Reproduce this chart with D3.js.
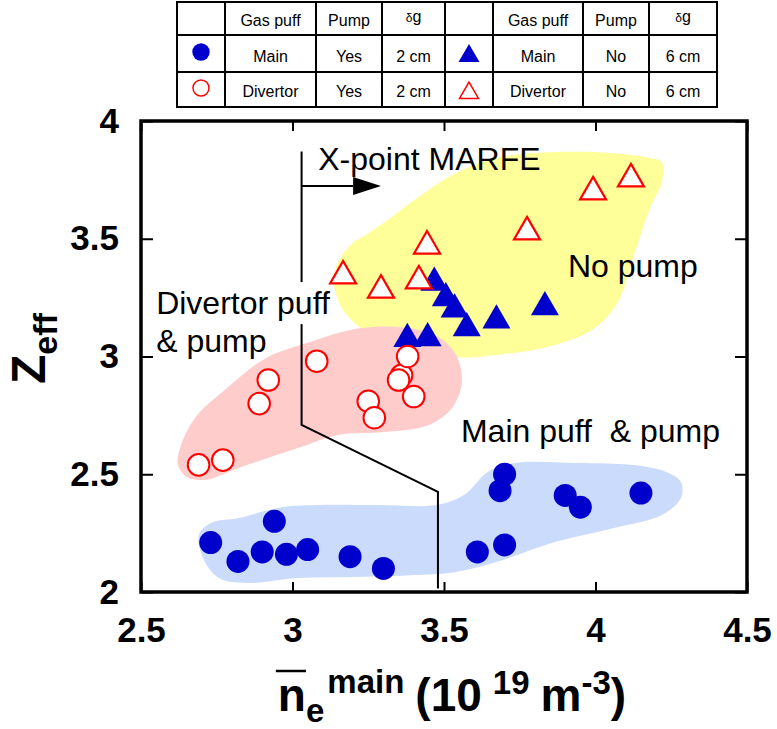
<!DOCTYPE html>
<html>
<head>
<meta charset="utf-8">
<script src="https://cdn.jsdelivr.net/npm/d3@7"></script>
<style>
  html, body { margin: 0; padding: 0; background: #fff; }
  svg { display: block; font-family: "Liberation Sans", Arial, Helvetica, sans-serif; }
</style>
</head>
<body>
<svg id="chart" width="777" height="729"></svg>
<script>
// ---------------- data ----------------
const xTicks = [2.5, 3, 3.5, 4, 4.5];
const yTicks = [2, 2.5, 3, 3.5, 4];

// [n_e main (1e19 m^-3), Z_eff]
// main gas puff, pumped, δg = 2 cm
const mainPuffPump = [
  [2.73, 2.21], [2.82, 2.13], [2.90, 2.17], [2.94, 2.30], [2.98, 2.16],
  [3.05, 2.18], [3.19, 2.15], [3.30, 2.10], [3.61, 2.17], [3.70, 2.20],
  [3.685, 2.43], [3.70, 2.50], [3.90, 2.41], [3.95, 2.36], [4.15, 2.42]
];
// divertor gas puff, pumped, δg = 2 cm
const divPuffPump = [
  [2.69, 2.54], [2.77, 2.56], [2.89, 2.80], [2.92, 2.90], [3.08, 2.98],
  [3.25, 2.81], [3.27, 2.74], [3.36, 2.92], [3.35, 2.90], [3.38, 3.00],
  [3.40, 2.83]
];
// main gas puff, no pump, δg = 6 cm
const mainPuffNoPump = [
  [3.468, 3.313], [3.506, 3.248], [3.535, 3.200], [3.575, 3.120],
  [3.673, 3.153], [3.833, 3.210], [3.379, 3.075], [3.446, 3.078]
];
// divertor gas puff, no pump, δg = 6 cm
const divPuffNoPump = [
  [3.167, 3.342], [3.292, 3.282], [3.444, 3.469], [3.417, 3.321],
  [3.992, 3.699], [4.117, 3.754], [3.774, 3.529]
];

// shaded regions enclosing each operating group
const noPumpRegion = [
  [3.206, 3.490], [3.150, 3.401], [3.137, 3.316], [3.163, 3.206], [3.226, 3.121],
  [3.345, 3.062], [3.540, 2.998], [3.672, 3.006], [3.866, 3.049], [3.998, 3.121],
  [4.074, 3.231], [4.127, 3.431], [4.180, 3.631], [4.219, 3.741], [4.219, 3.826],
  [4.180, 3.843], [3.998, 3.868], [3.800, 3.864], [3.672, 3.843], [3.540, 3.779],
  [3.411, 3.673], [3.305, 3.571], [3.226, 3.503]
];
const divPumpRegion = [
  [2.629, 2.611], [2.622, 2.539], [2.652, 2.488], [2.711, 2.476], [2.823, 2.527],
  [3.018, 2.611], [3.150, 2.667], [3.305, 2.679], [3.450, 2.709], [3.526, 2.781],
  [3.559, 2.892], [3.540, 3.006], [3.487, 3.079], [3.384, 3.121], [3.226, 3.121],
  [3.058, 3.062], [2.913, 2.994], [2.784, 2.866], [2.678, 2.739]
];
const mainPumpRegion = [
  [2.691, 2.242], [2.705, 2.144], [2.757, 2.059], [2.850, 2.038], [3.018, 2.059],
  [3.213, 2.064], [3.411, 2.072], [3.540, 2.085], [3.672, 2.127], [3.866, 2.212],
  [4.061, 2.272], [4.219, 2.327], [4.282, 2.399], [4.282, 2.467], [4.233, 2.510],
  [4.127, 2.539], [3.932, 2.548], [3.734, 2.548], [3.645, 2.510], [3.566, 2.412],
  [3.474, 2.369], [3.279, 2.369], [3.084, 2.369], [2.952, 2.357], [2.823, 2.314],
  [2.731, 2.293]
];

// X-point MARFE onset boundary and direction arrow
const marfeBoundary = [[3.03, 3.87], [3.03, 2.71], [3.48, 2.425], [3.48, 2.015]];
const marfeArrow = [[3.03, 3.724], [3.20, 3.724], [3.292, 3.724]];

// legend table
const tableHeader = ["", "Gas puff", "Pump", "δg", "", "Gas puff", "Pump", "δg"];
const tableRows = [
  ["Main", "Yes", "2 cm", "Main", "No", "6 cm"],
  ["Divertor", "Yes", "2 cm", "Divertor", "No", "6 cm"]
];

// ---------------- drawing ----------------
const BLUE = "#0000cc", RED = "#ff0000";
const svg = d3.select("#chart");
svg.append("rect").attr("width", 777).attr("height", 729).attr("fill", "#fff");

const x = d3.scaleLinear().domain([2.5, 4.5]).range([141, 747]);
const y = d3.scaleLinear().domain([2, 4]).range([592, 121]);

const blob = d3.line().x(d => x(d[0])).y(d => y(d[1]))
  .curve(d3.curveCatmullRomClosed.alpha(0.5));

const plot = svg.append("g");
plot.append("path").attr("d", blob(noPumpRegion)).attr("fill", "#ffff99");
plot.append("path").attr("d", blob(divPumpRegion)).attr("fill", "#ffcccc");
plot.append("path").attr("d", blob(mainPumpRegion)).attr("fill", "#cadbfb");

// MARFE boundary + arrow
const poly = d3.line().x(d => x(d[0])).y(d => y(d[1]));
plot.append("path").attr("d", poly(marfeBoundary))
  .attr("fill", "none").attr("stroke", "#000").attr("stroke-width", 2);
plot.append("path").attr("d", poly(marfeArrow.slice(0, 2)))
  .attr("fill", "none").attr("stroke", "#000").attr("stroke-width", 2);
{
  const [bx, by] = [x(marfeArrow[1][0]), y(marfeArrow[1][1])];
  const tx = x(marfeArrow[2][0]);
  plot.append("path")
    .attr("d", `M${bx},${by - 9}L${tx},${by}L${bx},${by + 9}Z`)
    .attr("fill", "#000");
}

// annotation labels
const ann = svg.append("g").attr("font-size", 32).attr("fill", "#000");
const divLabel = ann.append("text").attr("x", x(2.55)).attr("y", y(3.18)).text("Divertor puff");
const bb = divLabel.node().getBBox();
ann.insert("rect", "text")
  .attr("x", bb.x).attr("y", bb.y - 3).attr("width", bb.width).attr("height", bb.height + 6)
  .attr("fill", "#fff");
ann.append("text").attr("x", x(2.55)).attr("y", y(3.019)).text("& pump");
ann.append("text").attr("x", x(3.085)).attr("y", y(3.79)).text("X-point MARFE");
ann.append("text").attr("x", x(3.909)).attr("y", y(3.338)).text("No pump");
ann.append("text").attr("x", x(3.556)).attr("y", y(2.637))
  .style("white-space", "pre").text("Main puff  & pump");

// markers
const triSize = s => Math.sqrt(3) / 4 * s * s;
const marks = svg.append("g");
marks.selectAll(".mpp").data(mainPuffPump).join("circle")
  .attr("cx", d => x(d[0])).attr("cy", d => y(d[1])).attr("r", 11.5).attr("fill", BLUE);
marks.selectAll(".mnp").data(mainPuffNoPump).join("path")
  .attr("transform", d => `translate(${x(d[0])},${y(d[1])})`)
  .attr("d", d3.symbol().type(d3.symbolTriangle).size(triSize(28)))
  .attr("fill", BLUE);
marks.selectAll(".dpp").data(divPuffPump).join("circle")
  .attr("cx", d => x(d[0])).attr("cy", d => y(d[1])).attr("r", 10.8)
  .attr("fill", "#fff").attr("stroke", RED).attr("stroke-width", 2);
marks.selectAll(".dnp").data(divPuffNoPump).join("path")
  .attr("transform", d => `translate(${x(d[0])},${y(d[1])})`)
  .attr("d", d3.symbol().type(d3.symbolTriangle).size(triSize(26)))
  .attr("fill", "#fff").attr("stroke", RED).attr("stroke-width", 2.2);

// axes: ticks on all four sides, pointing inward
const fmt = d => d3.format("")(d);
svg.append("g").attr("transform", "translate(0,592)")
  .call(d3.axisBottom(x).tickValues(xTicks).tickSize(-10).tickPadding(25).tickFormat(fmt));
svg.append("g").attr("transform", "translate(141,0)")
  .call(d3.axisLeft(y).tickValues(yTicks).tickSize(-12).tickPadding(22).tickFormat(fmt));
svg.append("g").attr("transform", "translate(0,121)")
  .call(d3.axisTop(x).tickValues(xTicks).tickSize(-10).tickFormat(""));
svg.append("g").attr("transform", "translate(747,0)")
  .call(d3.axisRight(y).tickValues(yTicks).tickSize(-12).tickFormat(""));
svg.selectAll(".domain").remove();
svg.selectAll(".tick line").attr("stroke", "#000").attr("stroke-width", 2);
svg.selectAll(".tick text")
  .attr("font-family", "'Liberation Sans', Arial, sans-serif")
  .attr("font-size", 35).attr("font-weight", "bold").attr("fill", "#000");

// frame
svg.append("rect").attr("x", 141).attr("y", 121).attr("width", 606).attr("height", 471)
  .attr("fill", "none").attr("stroke", "#000").attr("stroke-width", 3.5);

// y title: Z_eff
const yt = svg.append("text")
  .attr("transform", "translate(45,384) rotate(-90)")
  .attr("font-weight", "bold").attr("font-size", 48).attr("fill", "#000");
yt.append("tspan").text("Z");
yt.append("tspan").attr("font-size", 34).attr("dy", 12).text("eff");

// x title: mean n_e main (10^19 m^-3)
const xt = svg.append("text")
  .attr("x", 452).attr("y", 711).attr("text-anchor", "middle")
  .attr("font-weight", "bold").attr("font-size", 46).attr("fill", "#000");
xt.append("tspan").text("n");
xt.append("tspan").attr("font-size", 33).attr("dy", 11).text("e");
xt.append("tspan").attr("font-size", 33).attr("dy", -29).attr("dx", 3).text("main");
xt.append("tspan").attr("dy", 18).attr("dx", 11).text("(10");
xt.append("tspan").attr("font-size", 33).attr("dy", -17).attr("dx", 11).text("19");
xt.append("tspan").attr("dy", 17).attr("dx", 11).text("m");
xt.append("tspan").attr("font-size", 33).attr("dy", -17).text("-3");
xt.append("tspan").attr("dy", 17).text(")");
{
  const ext = xt.node().getExtentOfChar(0);
  svg.append("line")
    .attr("x1", ext.x - 2).attr("x2", ext.x + ext.width)
    .attr("y1", 671).attr("y2", 671)
    .attr("stroke", "#000").attr("stroke-width", 2.5);
}

// legend table
const colEdges = [177, 225, 316, 382, 445, 493, 583, 649, 717];
const rowEdges = [2, 35, 72, 107];
const tbl = svg.append("g");
colEdges.forEach(cx => tbl.append("line")
  .attr("x1", cx).attr("x2", cx).attr("y1", rowEdges[0]).attr("y2", rowEdges[3])
  .attr("stroke", "#000").attr("stroke-width", 2));
rowEdges.forEach(ry => tbl.append("line")
  .attr("x1", colEdges[0] - 1).attr("x2", colEdges[8] + 1).attr("y1", ry).attr("y2", ry)
  .attr("stroke", "#000").attr("stroke-width", 2));
const colMid = i => (colEdges[i] + colEdges[i + 1]) / 2;
const hdrBase = 26, rowBase = [62, 97];
tableHeader.forEach((h, i) => {
  if (!h) return;
  const t = tbl.append("text").attr("x", colMid(i)).attr("text-anchor", "middle")
    .attr("font-size", 16).attr("fill", "#000");
  if (h.startsWith("δ")) {
    t.attr("y", hdrBase - 4);
    t.append("tspan").attr("font-size", 12).text("δ");
    t.append("tspan").text(h.slice(1));
  } else {
    t.attr("y", hdrBase).text(h);
  }
});
const dataCols = [1, 2, 3, 5, 6, 7];
tableRows.forEach((row, r) => row.forEach((v, j) => {
  tbl.append("text").attr("x", colMid(dataCols[j])).attr("y", rowBase[r])
    .attr("text-anchor", "middle").attr("font-size", 16).attr("fill", "#000").text(v);
}));
// legend symbols
tbl.append("circle").attr("cx", colMid(0)).attr("cy", 52).attr("r", 8.7).attr("fill", BLUE);
tbl.append("circle").attr("cx", colMid(0)).attr("cy", 88).attr("r", 8)
  .attr("fill", "#fff").attr("stroke", RED).attr("stroke-width", 1.5);
tbl.append("path").attr("transform", `translate(${colMid(4)},56)`)
  .attr("d", d3.symbol().type(d3.symbolTriangle).size(triSize(21))).attr("fill", BLUE);
tbl.append("path").attr("transform", `translate(${colMid(4)},93)`)
  .attr("d", d3.symbol().type(d3.symbolTriangle).size(triSize(19)))
  .attr("fill", "#fff").attr("stroke", RED).attr("stroke-width", 1.5);
</script>
</body>
</html>
